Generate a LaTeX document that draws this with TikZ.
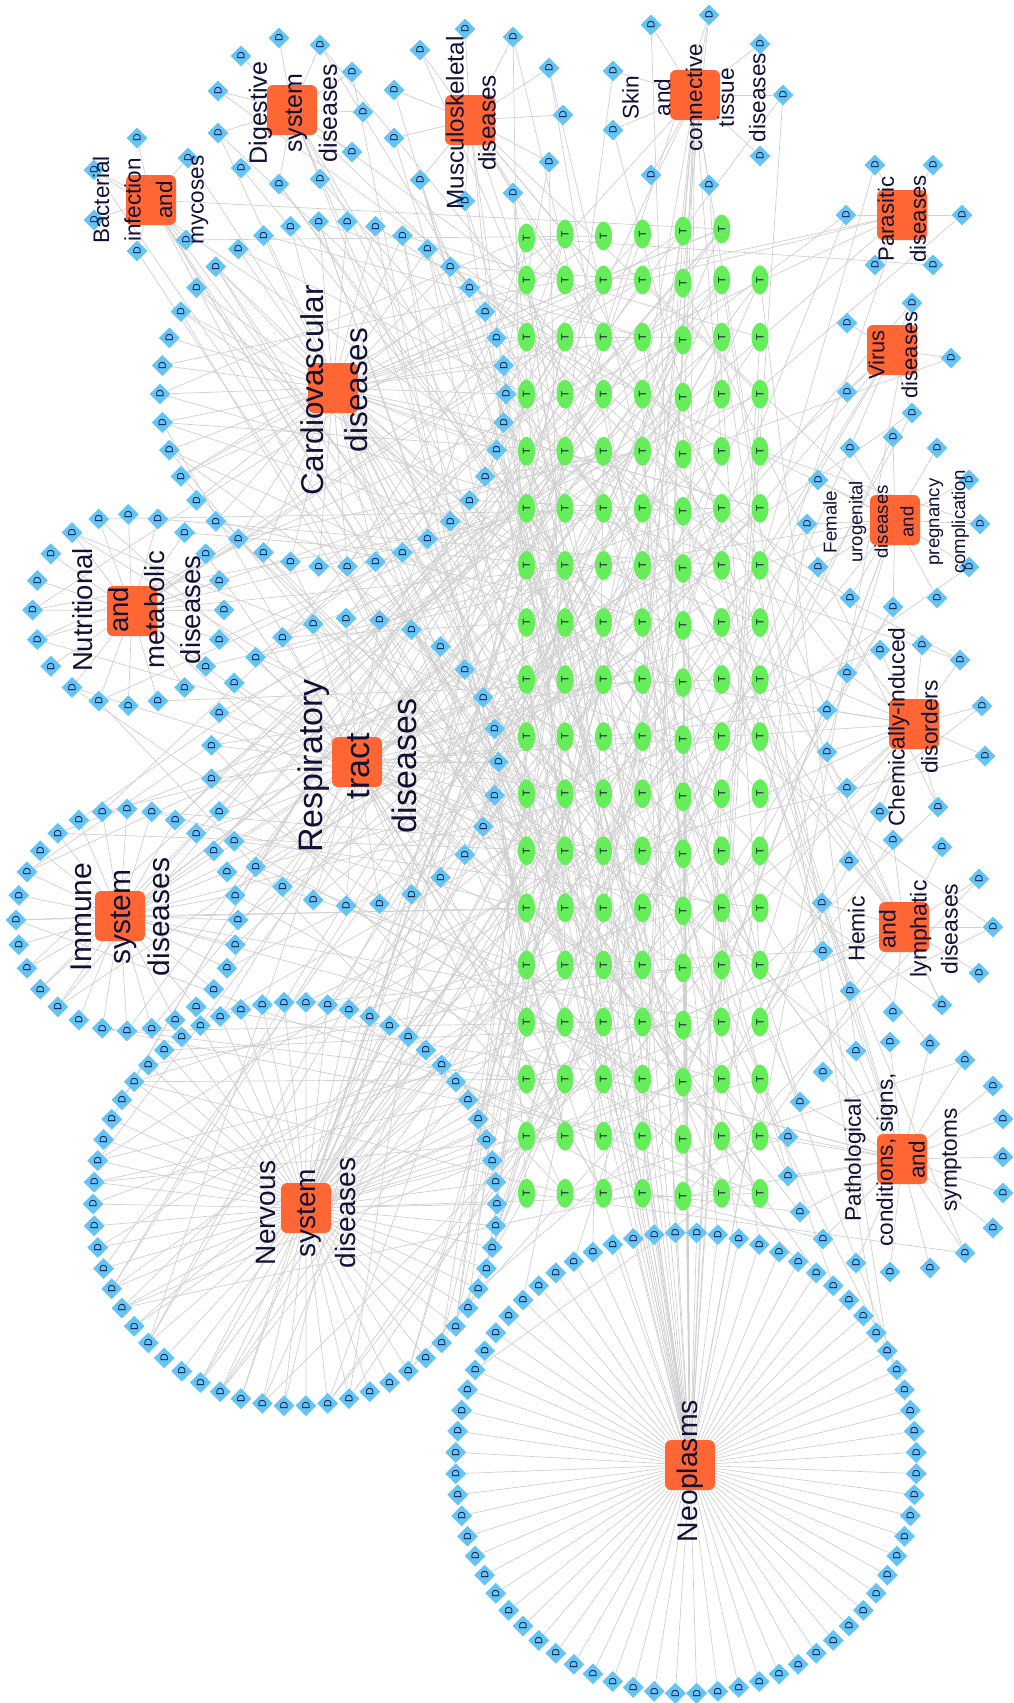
\documentclass[tikz,border=0pt]{standalone}
\usepackage{fontspec}
\setmainfont{Liberation Sans}
\usetikzlibrary{shapes.geometric}
\pgfdeclarelayer{bg}
\pgfsetlayers{bg,main}
\definecolor{hubc}{RGB}{255,102,51}
\definecolor{dc}{RGB}{100,196,245}
\definecolor{tc}{RGB}{102,238,90}
\definecolor{ec}{RGB}{208,208,208}
\definecolor{txt}{RGB}{17,17,56}
\tikzset{
  dnode/.style={diamond, fill=dc, inner sep=0pt, minimum width=21, minimum height=21, text=txt, font=\fontsize{10.5}{10.5}\selectfont, rotate=90},
  tnode/.style={ellipse, fill=tc, inner sep=0pt, minimum width=29, minimum height=17, text=txt, font=\fontsize{10.5}{10.5}\selectfont, rotate=90},
  hub/.style={rectangle, rounded corners=6, fill=hubc, minimum size=50, inner sep=0pt},
  lab/.style={text=txt, align=center, rotate=90, inner sep=0pt},
  lnk/.style={draw=ec, line width=0.7}
}
\newcommand\ringnodes[6]{%
  \foreach \i in {1,...,#2}{%
    \pgfmathsetmacro\ang{#6+360/#2*(\i-1)}%
    \node[dnode] (#1\i) at ([shift={(#3,#4)}]\ang:#5) {D};
  }}
\newcommand\listnodes[2]{\foreach \p [count=\i] in {#2} {\node[dnode] (#1\i) at \p {D};}}
\newcommand\randT{\pgfmathrandominteger{\tR}{0}{17}\pgfmathrandominteger{\tC}{1}{7}\ifnum\tR=0 \ifnum\tC=7 \def\tC{6}\fi\fi}
\newcommand\clusteredges[4]{%
  \foreach \i in {1,...,#2}{%
    \draw[lnk] (#1\i) -- (#3);
    \pgfmathrandominteger{\kk}{0}{#4}%
    \ifnum\kk>0
      \foreach \j in {1,...,\kk}{\randT\draw[lnk] (#1\i) -- (t-\tR-\tC);}
    \fi
  }}
\newcommand\hubedges[2]{\foreach \j in {1,...,#2}{\randT\draw[lnk] (#1) -- (t-\tR-\tC);}}
\begin{document}
\begin{tikzpicture}[x=1pt,y=-1pt]
\begin{pgfonlayer}{bg}
\fill[white] (0,0) rectangle (1014,1703);
\end{pgfonlayer}
\useasboundingbox (0,0) rectangle (1014,1703);
\pgfmathsetseed{20231}
% ---- T grid ----
\foreach \rI in {1,...,17}{
  \foreach \x [count=\cI] in {526.5,565,603.5,642.5,683,721.7,760}{
    \pgfmathsetmacro\yy{280+57.08*(\rI-1)+((\cI==5)?3:0)}
    \node[tnode] (t-\rI-\cI) at (\x,\yy) {T};
  }
}
\foreach \x/\y [count=\cI] in {526.5/238,565/234,603.5/236,642.5/234,683/231,721.7/229}
  \node[tnode] (t-0-\cI) at (\x,\y) {T};
% ---- hubs ----
\node[hub] (neo) at (690,1465) {};
\node[hub] (ner) at (306,1208) {};
\node[hub] (imm) at (120,916) {};
\node[hub] (res) at (357,762) {};
\node[hub] (nut) at (132,611) {};
\node[hub] (car) at (333,388) {};
\node[hub] (bac) at (151,200) {};
\node[hub] (dig) at (292,110) {};
\node[hub] (mus) at (470,120) {};
\node[hub] (ski) at (695,95) {};
\node[hub] (par) at (902,215) {};
\node[hub] (vir) at (892,350) {};
\node[hub] (fem) at (895,520) {};
\node[hub] (che) at (914,724) {};
\node[hub] (hem) at (904,927) {};
\node[hub] (pat) at (902,1159) {};
% ---- D rings ----
\ringnodes{neo}{68}{686}{1463}{230.5}{2.647}
\ringnodes{ner}{58}{295}{1204}{202}{0}
\ringnodes{imm}{28}{127}{920}{111}{0}
\ringnodes{res}{27}{354.5}{762}{144}{0}
\ringnodes{nut}{20}{128.3}{610}{95.7}{0}
\ringnodes{car}{38}{333}{394}{173}{0}
% ---- D small clusters ----
\listnodes{bac}{(137,138),(188,158),(94,170),(94,220),(186,240),(137,251)}
\listnodes{dig}{(279,38),(320,45),(241,56),(352,72),(218,91),(363,112),(218,133),(352,152),(241,168),(320,179),(279,184)}
\listnodes{mus}{(465,29),(513,37),(420,50),(549,68),(394,90),(563,115),(394,138),(549,162),(420,180),(513,193),(465,201)}
\listnodes{ski}{(709,15),(651,25),(760,44),(613,71),(783,95),(613,130),(760,156),(651,175),(709,185)}
\listnodes{par}{(875,165),(933,165),(846,215),(962,215),(875,265),(933,265)}
\listnodes{vir}{(912,303),(847,323),(951,358),(847,392),(912,413)}
\listnodes{fem}{(893,437),(850,448),(937,448),(818,480),(969,480),(807,524),(980,524),(818,567),(969,567),(850,598),(937,598),(893,607)}
\listnodes{che}{(922,645),(880,650),(960,660),(847,673),(982,706),(827,710),(827,752),(985,756),(847,788),(938,807),(880,812)}
\listnodes{hem}{(942,847),(893,840),(849,861),(979,879),(822,903),(993,927),(823,951),(979,973),(850,991),(942,1005),(893,1012)}
\listnodes{pat}{(890,1042),(930,1044),(856,1051),(965,1060),(823,1072),(993,1086),(800,1102),(1003,1119),(788,1137),(1003,1157),(788,1176),(1003,1193),(800,1212),(993,1228),(823,1239),(965,1253),(856,1263),(930,1268),(890,1272)}
% ---- edges ----
\begin{pgfonlayer}{bg}
\foreach \i in {1,...,68}{%
  \draw[lnk] (neo\i) -- (neo);
  \pgfmathsetmacro\ang{2.647+360/68*(\i-1)}%
  \pgfmathrandominteger{\kk}{0}{1}%
  \pgfmathtruncatemacro\ok{((\ang>195 && \ang<345)?1:0)*\kk}%
  \ifnum\ok=1 \randT\draw[lnk] (neo\i) -- (t-\tR-\tC);\fi
}
\clusteredges{ner}{58}{ner}{3}
\clusteredges{imm}{28}{imm}{2}
\clusteredges{res}{27}{res}{3}
\clusteredges{nut}{20}{nut}{2}
\clusteredges{car}{38}{car}{3}
\clusteredges{bac}{6}{bac}{2}
\clusteredges{dig}{11}{dig}{2}
\clusteredges{mus}{11}{mus}{2}
\clusteredges{ski}{9}{ski}{2}
\clusteredges{par}{6}{par}{2}
\clusteredges{vir}{5}{vir}{2}
\clusteredges{fem}{12}{fem}{2}
\clusteredges{che}{11}{che}{2}
\clusteredges{hem}{11}{hem}{2}
\clusteredges{pat}{19}{pat}{2}
\hubedges{neo}{30}
\hubedges{ner}{20}
\hubedges{car}{15}
\hubedges{res}{15}
\hubedges{imm}{8}
\hubedges{nut}{8}
\hubedges{bac}{6}
\hubedges{dig}{6}
\hubedges{mus}{8}
\hubedges{ski}{12}
\hubedges{par}{5}
\hubedges{vir}{5}
\hubedges{fem}{8}
\hubedges{che}{8}
\hubedges{hem}{8}
\hubedges{pat}{10}
\end{pgfonlayer}
% ---- labels ----
\node[lab, font=\fontsize{28.4}{34}\selectfont] (l-neo) at (690,1471) {Neoplasms};
\node[lab, font=\fontsize{28}{40.5}\selectfont] (l-ner) at (306,1213) {Nervous\\system\\diseases};
\node[lab, font=\fontsize{30}{39}\selectfont] (l-imm) at (120,917) {Immune\\system\\diseases};
\node[lab, font=\fontsize{27.5}{36}\selectfont] (l-nut) at (137,610) {Nutritional\\and\\metabolic\\diseases};
\node[lab, font=\fontsize{34}{47}\selectfont] (l-res) at (357,766) {Respiratory\\tract\\diseases};
\node[lab, font=\fontsize{31.5}{44}\selectfont] (l-car) at (334,390) {Cardiovascular\\diseases};
\node[lab, font=\fontsize{22.5}{31.5}\selectfont] (l-bac) at (150.5,200) {Bacterial\\infection\\and\\mycoses};
\node[lab, font=\fontsize{25}{35}\selectfont] (l-dig) at (293,113) {Digestive\\system\\diseases};
\node[lab, font=\fontsize{24.3}{32}\selectfont] (l-mus) at (471,123) {Musculoskeletal\\diseases};
\node[lab, font=\fontsize{22.6}{31.7}\selectfont] (l-ski) at (694,97.5) {Skin\\and\\connective\\tissue\\diseases};
\node[lab, font=\fontsize{22.2}{32}\selectfont] (l-par) at (902,219) {Parasitic\\diseases};
\node[lab, font=\fontsize{22}{33}\selectfont] (l-vir) at (893,355) {Virus\\diseases};
\node[lab, font=\fontsize{18.6}{25.7}\selectfont] (l-fem) at (896,522) {Female\\urogenital\\diseases\\and\\pregnancy\\complication};
\node[lab, font=\fontsize{22.8}{33}\selectfont] (l-che) at (913,727) {Chemically-induced\\disorders};
\node[lab, font=\fontsize{23}{31}\selectfont] (l-hem) at (903,929) {Hemic\\and\\lymphatic\\diseases};
\node[lab, font=\fontsize{22.6}{32}\selectfont] (l-pat) at (903,1160) {Pathological\\conditions, signs,\\and\\symptoms};
\end{tikzpicture}
\end{document}
